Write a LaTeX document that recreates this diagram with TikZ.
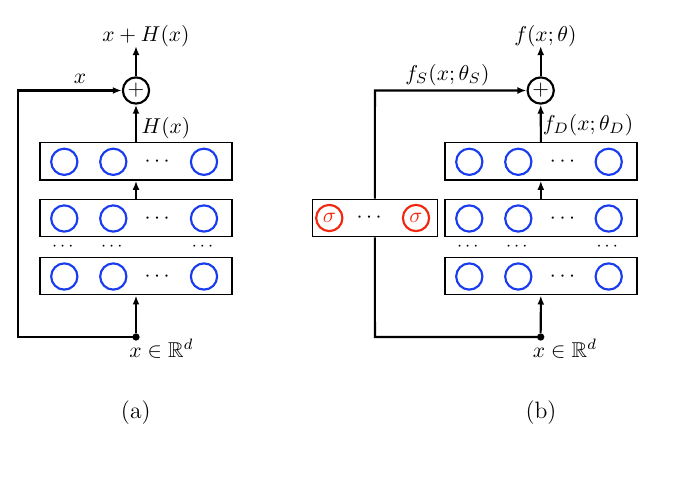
\documentclass[tikz,border=0pt]{standalone}
\usepackage{amsmath,amssymb}
\usetikzlibrary{arrows.meta,calc}
\definecolor{nblue}{RGB}{25,60,240}
\definecolor{nred}{RGB}{240,40,15}
\begin{document}
\begin{tikzpicture}[x=0.465pt,y=-0.465pt,
  layer/.style={draw, line width=0.7pt, minimum width=89.3pt, minimum height=17.4pt, inner sep=0pt},
  slayer/.style={draw, line width=0.7pt, minimum width=58.1pt, minimum height=17.4pt, inner sep=0pt},
  neuron/.style={circle, draw=nblue, line width=1pt, minimum size=12.2pt, inner sep=0pt},
  sneuron/.style={circle, draw=nred, text=nred, line width=1pt, minimum size=12.2pt, inner sep=0pt},
  plusnode/.style={circle, draw, line width=1pt, minimum size=12.2pt, inner sep=0pt},
  conn/.style={line width=0.95pt, -{Latex[length=4.2pt,width=3.2pt]}},
  wire/.style={line width=0.95pt},
  dotnode/.style={circle, fill, inner sep=0pt, minimum size=3.4pt},
  lbl/.style={inner sep=0pt},
  dots/.style={inner sep=0pt},
  sdots/.style={inner sep=0pt, font=\footnotesize},
  captxt/.style={inner sep=0pt, font=\fontsize{11}{13}\selectfont}
]
\useasboundingbox (0,0) rectangle (676,479);

% ---------- panel (a) ----------
\node[layer] (a1) at (136,161.3) {};
\node[layer] (a2) at (136,218) {};
\node[layer] (a3) at (136,276) {};
\foreach \b in {a1,a2,a3}{
  \node[neuron] (\b-n1) at ($(\b)+(-71.7,0.5)$) {};
  \node[neuron] (\b-n2) at ($(\b)+(-22.7,0.5)$) {};
  \node[neuron] (\b-n3) at ($(\b)+(68,0.5)$) {};
  \node[dots] (\b-d) at ($(\b)+(23,0.5)$) {$\cdots$};
}
\node[sdots] (ad1) at (64.3,246.7) {$\cdots$};
\node[sdots] (ad2) at (113.3,246.7) {$\cdots$};
\node[sdots] (ad3) at (204,246.7) {$\cdots$};

\node[plusnode] (ap) at (136,90.5) {$+$};
\node[dotnode] (ain) at (136,337) {};
\coordinate (aout) at (136,46);
\coordinate (acl) at (18.3,337);
\coordinate (acu) at (18.3,90.5);

\draw[conn] (ain) -- (a3.south);
\draw[conn] (a2.north) -- (a1.south);
\draw[conn] (a1.north) -- (ap.south);
\draw[conn] (ap.north) -- (aout);
\draw[conn] (ain.center) -- (acl) -- (acu) -- (ap.west);

\node[lbl] (ax) at (80,79) {$x$};
\node[lbl] (aH) at (166,128) {$H(x)$};
\node[lbl] (atop) at (146,36.5) {$x+H(x)$};
\node[lbl] (ain-l) at (161.5,349) {$x\in\mathbb{R}^d$};
\node[captxt] (acap) at (135.8,413) {(a)};

% ---------- panel (b) ----------
\node[layer] (b1) at (540.8,161.3) {};
\node[layer] (b2) at (540.8,218) {};
\node[layer] (b3) at (540.8,276) {};
\foreach \b in {b1,b2,b3}{
  \node[neuron] (\b-n1) at ($(\b)+(-71.5,0.5)$) {};
  \node[neuron] (\b-n2) at ($(\b)+(-22.5,0.5)$) {};
  \node[neuron] (\b-n3) at ($(\b)+(67.9,0.5)$) {};
  \node[dots] (\b-d) at ($(\b)+(23.5,0.5)$) {$\cdots$};
}
\node[sdots] (bd1) at (469.3,246.7) {$\cdots$};
\node[sdots] (bd2) at (518.3,246.7) {$\cdots$};
\node[sdots] (bd3) at (608.7,246.7) {$\cdots$};

\node[slayer] (s) at (374.8,218) {};
\node[sneuron] (s1) at (329.3,218) {$\sigma$};
\node[sneuron] (s2) at (416,218) {$\sigma$};
\node[dots] (sd) at (371,218) {$\cdots$};

\node[plusnode] (bp) at (540.7,90.5) {$+$};
\node[dotnode] (bin) at (540.7,337) {};
\coordinate (bout) at (540.7,46);
\coordinate (bsl) at (375,337);
\coordinate (bsu) at (375,90.5);

\draw[conn] (bin) -- (b3.south);
\draw[conn] (b2.north) -- (b1.south);
\draw[conn] (b1.north) -- (bp.south);
\draw[conn] (bp.north) -- (bout);
\draw[wire] (bin.center) -- (bsl) -- (s.south);
\draw[conn] (s.north) -- (bsu) -- (bp.west);

\node[lbl] (bfs) at (447.5,75) {$f_S(x;\theta_S)$};
\node[lbl] (bfd) at (588,125) {$f_D(x;\theta_D)$};
\node[lbl] (btop) at (545.3,36.5) {$f(x;\theta)$};
\node[lbl] (bin-l) at (565,349) {$x\in\mathbb{R}^d$};
\node[captxt] (bcap) at (541,413) {(b)};
\end{tikzpicture}
\end{document}
